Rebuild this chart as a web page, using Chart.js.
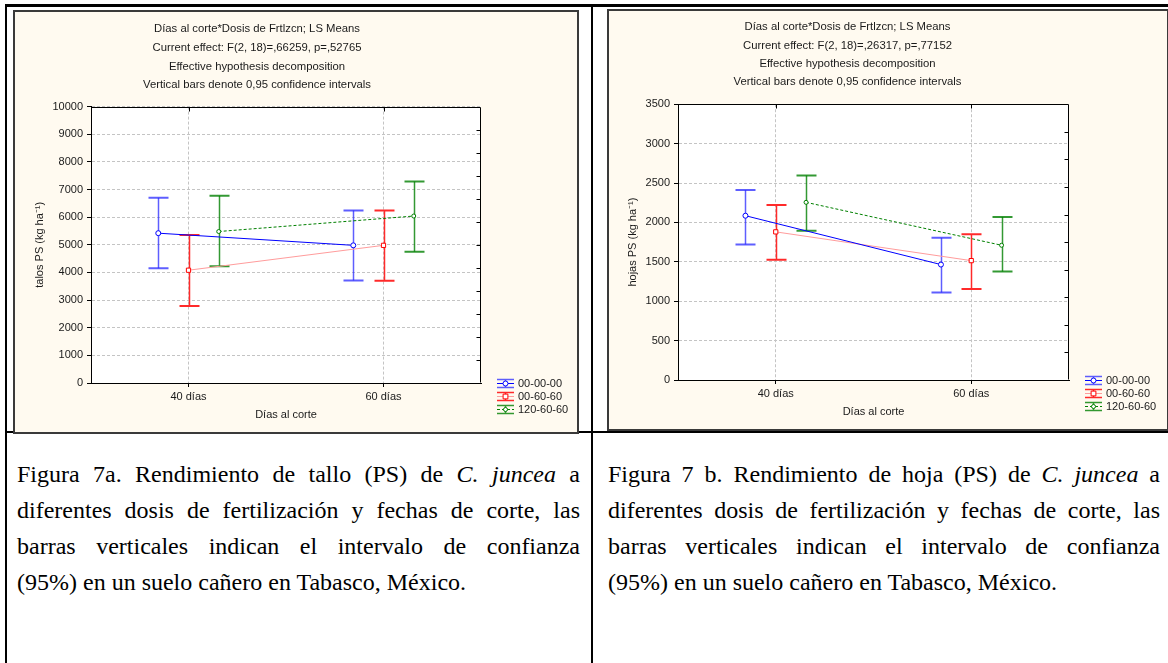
<!DOCTYPE html>
<html>
<head>
<meta charset="utf-8">
<script src="https://cdn.jsdelivr.net/npm/chart.js@4.4.1/dist/chart.umd.min.js"></script>
<style>
  body { margin: 0; background: #fff; width: 1168px; height: 663px; overflow: hidden; position: relative; }
  .ln { position: absolute; background: #000; }
  .frame { position: absolute; border: 2px solid #3a3a3a; background: #fffaf0; }
  .frame canvas { display: block; }
  .cap { position: absolute; font-family: "Liberation Serif", "Times New Roman", serif; font-size: 24px; line-height: 36px; color: #000; }
  .cap .j { text-align: justify; text-align-last: justify; white-space: nowrap; }
</style>
</head>
<body>
<div class="ln" style="left:5px;top:4px;width:1163px;height:3px"></div>
<div class="ln" style="left:5px;top:4px;width:2px;height:659px"></div>
<div class="ln" style="left:591px;top:4px;width:2px;height:659px"></div>
<div class="ln" style="left:5px;top:431px;width:1163px;height:2px"></div>

<div class="frame" style="left:13px;top:10px"><canvas id="chartTallo" width="562" height="420"></canvas></div>
<div class="frame" style="left:607px;top:9px"><canvas id="chartHoja" width="558" height="418"></canvas></div>

<div class="cap" style="left:17px;top:456px;width:563px">
  <div class="j">Figura 7a. Rendimiento de tallo (PS) de <i>C. juncea</i> a</div>
  <div class="j">diferentes dosis de fertilización y fechas de corte, las</div>
  <div class="j">barras verticales indican el intervalo de confianza</div>
  <div>(95%) en un suelo cañero en Tabasco, México.</div>
</div>
<div class="cap" style="left:608px;top:456px;width:552px">
  <div class="j">Figura 7 b. Rendimiento de hoja (PS) de <i>C. juncea</i> a</div>
  <div class="j">diferentes dosis de fertilización y fechas de corte, las</div>
  <div class="j">barras verticales indican el intervalo de confianza</div>
  <div>(95%) en un suelo cañero en Tabasco, México.</div>
</div>

<script>
// categories and series
const categories = ['40 días', '60 días'];
const doses = ['00-00-00', '00-60-60', '120-60-60'];

// Fig 7a - talos PS (kg/ha): LS means and 95% CI, one row per dose
const talloMean = [[5420, 4980], [4080, 4980], [5480, 6040]];
const talloLow  = [[4150, 3710], [2790, 3700], [4220, 4750]];
const talloHigh = [[6700, 6240], [5350, 6240], [6770, 7290]];

// Fig 7b - hojas PS (kg/ha)
const hojaMean = [[2085, 1465], [1880, 1515], [2255, 1710]];
const hojaLow  = [[1720, 1110], [1525, 1155], [1895, 1377]];
const hojaHigh = [[2410, 1805], [2220, 1850], [2595, 2070]];

const talloTitle = ['Días al corte*Dosis de Frtlzcn; LS Means', 'Current effect: F(2, 18)=,66259, p=,52765',
  'Effective hypothesis decomposition', 'Vertical bars denote 0,95 confidence intervals'];
const hojaTitle = ['Días al corte*Dosis de Frtlzcn; LS Means', 'Current effect: F(2, 18)=,26317, p=,77152',
  'Effective hypothesis decomposition', 'Vertical bars denote 0,95 confidence intervals'];

Chart.defaults.font.family = '"Liberation Sans", Arial, sans-serif';
Chart.defaults.font.size = 11;
Chart.defaults.color = '#1a1a1a';

const dodge = [-0.155, 0, 0.155];
const styles = [
  { line: '#0000ff', bar: 'rgba(40,40,255,0.75)', point: 'circle', r: 2.5, dash: [] },
  { line: '#ff9c9c', bar: '#ff2a2a', point: 'rect', r: 3, dash: [], pointColor: '#ff0000' },
  { line: '#008000', bar: 'rgba(0,128,0,0.8)', point: 'circle', r: 2, dash: [3, 2] }
];

// draws the confidence interval whiskers
const errorBars = {
  id: 'errorBars',
  beforeDatasetsDraw(chart) {
    const { ctx, scales: { x, y } } = chart;
    chart.data.datasets.forEach(ds => {
      ds.data.forEach((p, j) => {
        const px = Math.round(x.getPixelForValue(p.x)) + 0.5;
        const yl = y.getPixelForValue(ds.low[j]);
        const yh = y.getPixelForValue(ds.high[j]);
        ctx.save();
        ctx.strokeStyle = ds.barColor;
        ctx.lineWidth = 1.5;
        ctx.beginPath(); ctx.moveTo(px, yl); ctx.lineTo(px, yh); ctx.stroke();
        ctx.lineWidth = 2;
        ctx.beginPath();
        ctx.moveTo(px - 10, yl); ctx.lineTo(px + 10, yl);
        ctx.moveTo(px - 10, yh); ctx.lineTo(px + 10, yh);
        ctx.stroke();
        ctx.restore();
      });
    });
  }
};

// white plot area, black frame, inner ticks on top/right
const plotFrame = {
  id: 'plotFrame',
  beforeDraw(chart) {
    const { ctx, chartArea: a } = chart;
    ctx.save();
    ctx.fillStyle = '#fff';
    ctx.fillRect(a.left, a.top, a.right - a.left, a.bottom - a.top);
    ctx.restore();
  },
  afterDraw(chart, args, opts) {
    const { ctx, chartArea: a, scales: { x } } = chart;
    const L = Math.round(a.left) + 0.5, R = Math.round(a.right) - 0.5;
    const T = Math.round(a.top) + 0.5, B = Math.round(a.bottom) - 0.5;
    ctx.save();
    ctx.strokeStyle = '#000';
    ctx.lineWidth = 1;
    ctx.beginPath();
    ctx.moveTo(L, T); ctx.lineTo(R, T); ctx.lineTo(R, B);
    for (let i = 1; i < opts.rightTicks; i++) {
      const yy = Math.round(a.top + i * (a.bottom - a.top) / opts.rightTicks) + 0.5;
      ctx.moveTo(R - 4, yy); ctx.lineTo(R, yy);
    }
    x.ticks.forEach(t => {
      const xx = Math.round(x.getPixelForValue(t.value)) + 0.5;
      ctx.moveTo(xx, T); ctx.lineTo(xx, T + 4);
    });
    ctx.stroke();
    ctx.restore();
  }
};

// Statistica style legend under the right side of the plot
const sideLegend = {
  id: 'sideLegend',
  afterDraw(chart) {
    const { ctx, chartArea: a } = chart;
    chart.data.datasets.forEach((ds, i) => {
      const x0 = a.right + 16, y0 = Math.round(a.bottom + 13 * i) + 0.5;
      ctx.save();
      ctx.strokeStyle = ds.barColor;
      ctx.lineWidth = 1.5;
      ctx.beginPath();
      ctx.moveTo(x0, y0 - 4); ctx.lineTo(x0 + 17, y0 - 4);
      ctx.moveTo(x0, y0 + 4); ctx.lineTo(x0 + 17, y0 + 4);
      ctx.moveTo(x0 + 8.5, y0 - 4); ctx.lineTo(x0 + 8.5, y0 + 4);
      ctx.stroke();
      ctx.strokeStyle = ds.borderColor;
      ctx.lineWidth = 1;
      ctx.setLineDash(ds.borderDash);
      ctx.beginPath(); ctx.moveTo(x0, y0); ctx.lineTo(x0 + 17, y0); ctx.stroke();
      ctx.setLineDash([]);
      ctx.fillStyle = '#fff';
      ctx.strokeStyle = ds.pointBorderColor;
      ctx.beginPath();
      if (ds.pointStyle === 'rect') ctx.rect(x0 + 8.5 - ds.pointRadius * 0.8, y0 - ds.pointRadius * 0.8, ds.pointRadius * 1.6, ds.pointRadius * 1.6);
      else ctx.arc(x0 + 8.5, y0, ds.pointRadius, 0, Math.PI * 2);
      ctx.fill(); ctx.stroke();
      ctx.fillStyle = '#1a1a1a';
      ctx.font = '11px "Liberation Sans", Arial, sans-serif';
      ctx.textBaseline = 'middle';
      ctx.fillText(doses[i], x0 + 21, y0);
      ctx.restore();
    });
  }
};

function buildDatasets(mean, low, high) {
  return doses.map((name, s) => ({
    label: name,
    data: categories.map((c, k) => ({ x: k + 0.5 + dodge[s], y: mean[s][k] })),
    low: low[s],
    high: high[s],
    barColor: styles[s].bar,
    borderColor: styles[s].line,
    borderWidth: 1,
    borderDash: styles[s].dash,
    pointStyle: styles[s].point,
    pointRadius: styles[s].r,
    pointBorderWidth: 1,
    pointBorderColor: styles[s].pointColor || styles[s].line,
    pointBackgroundColor: '#fff',
    showLine: true,
    fill: false,
    tension: 0
  }));
}

function makeChart(id, cfg) {
  const axisFont = { size: 11 };
  new Chart(document.getElementById(id), {
    type: 'line',
    data: { datasets: buildDatasets(cfg.mean, cfg.low, cfg.high) },
    options: {
      responsive: false,
      animation: false,
      events: [],
      layout: { padding: { left: cfg.padL, right: cfg.padR, top: 0, bottom: 10 } },
      plugins: {
        legend: { display: false },
        tooltip: { enabled: false },
        title: {
          display: true,
          text: cfg.title,
          color: '#1a1a1a',
          font: { size: 11.3, weight: 'normal', lineHeight: cfg.titleLH },
          padding: { top: cfg.titleTop, bottom: cfg.titleBottom }
        },
        plotFrame: { rightTicks: cfg.rightTicks }
      },
      scales: {
        x: {
          type: 'linear',
          min: 0,
          max: categories.length,
          afterBuildTicks: s => { s.ticks = categories.map((c, k) => ({ value: k + 0.5 })); },
          afterFit: s => { s.height = 39; },
          ticks: { callback: v => categories[Math.round(v - 0.5)], font: axisFont, color: '#1a1a1a', padding: 3, autoSkip: false, maxRotation: 0 },
          grid: { color: '#c4c4c4', tickColor: '#000', tickLength: 4, tickBorderDash: [] },
          border: { color: '#000', dash: [3, 2] },
          title: { display: true, text: 'Días al corte', font: axisFont, color: '#1a1a1a', padding: 0 }
        },
        y: {
          min: 0,
          max: cfg.yMax,
          afterFit: s => { s.width = cfg.yWidth; },
          ticks: { stepSize: cfg.yStep, callback: v => String(v), font: axisFont, color: '#1a1a1a', padding: 4 },
          grid: { color: '#c4c4c4', tickColor: '#000', tickLength: 4, tickBorderDash: [] },
          border: { color: '#000', dash: [3, 2] },
          title: { display: true, text: cfg.yTitle, font: axisFont, color: '#1a1a1a', padding: 0 }
        }
      }
    },
    plugins: [plotFrame, errorBars, sideLegend]
  });
}

makeChart('chartTallo', {
  mean: talloMean, low: talloLow, high: talloHigh, title: talloTitle,
  yTitle: 'talos PS (kg ha⁻¹)', yMax: 10000, yStep: 1000, rightTicks: 12,
  padL: 18, padR: 96, yWidth: 58, titleLH: 1.65, titleTop: 8, titleBottom: 12
});
makeChart('chartHoja', {
  mean: hojaMean, low: hojaLow, high: hojaHigh, title: hojaTitle,
  yTitle: 'hojas PS (kg ha⁻¹)', yMax: 3500, yStep: 500, rightTicks: 10,
  padL: 17, padR: 98, yWidth: 52, titleLH: 1.62, titleTop: 7, titleBottom: 13
});
</script>
</body>
</html>
